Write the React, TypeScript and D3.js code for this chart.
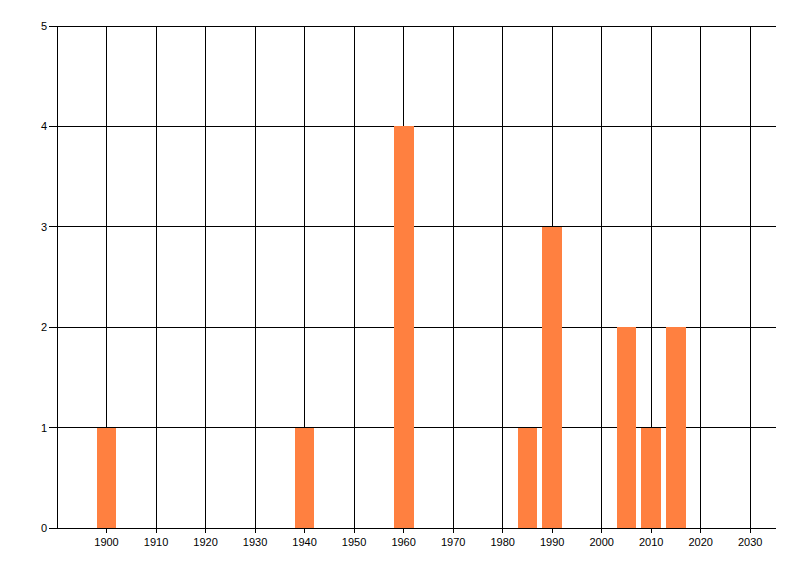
import React from "react";
import * as d3 from "d3";

const years = [1900, 1940, 1960, 1985, 1990, 2005, 2010, 2015];
const counts = [1, 1, 4, 1, 3, 2, 1, 2];
const xTicks = [1900, 1910, 1920, 1930, 1940, 1950, 1960, 1970, 1980, 1990, 2000, 2010, 2020, 2030];
const yTicks = [0, 1, 2, 3, 4, 5];

export default function App() {
  const W = 800, H = 576;
  const left = 57, right = 776, top = 26, bottom = 528;
  const x = d3.scaleLinear().domain([1890, 2035.2]).range([left, right]);
  const y = d3.scaleLinear().domain([0, 5]).range([bottom, top]);
  const barW = x(1904) - x(1900);
  const font = "'Liberation Sans', Arial, sans-serif";
  return (
    <svg width={W} height={H} style={{ position: "absolute", left: 0, top: 0 }}>
      <rect width={W} height={H} fill="#fff" />
      {xTicks.map((t) => (
        <line key={"gx" + t} x1={x(t)} x2={x(t)} y1={top} y2={bottom + 5} stroke="#000" strokeWidth={1} shapeRendering="crispEdges" />
      ))}
      {yTicks.map((t) => (
        <line key={"gy" + t} x1={left - 8} x2={right} y1={y(t)} y2={y(t)} stroke="#000" strokeWidth={1} shapeRendering="crispEdges" />
      ))}
      {years.map((yr, i) => (
        <rect key={"b" + yr} x={x(yr) - barW / 2} y={y(counts[i])} width={barW} height={bottom - y(counts[i])} fill="#FF8040" shapeRendering="crispEdges" />
      ))}
      <line x1={left} x2={left} y1={top} y2={bottom} stroke="#000" shapeRendering="crispEdges" />
      <line x1={left - 8} x2={right} y1={bottom} y2={bottom} stroke="#000" shapeRendering="crispEdges" />
      {xTicks.map((t) => (
        <text key={"tx" + t} x={x(t)} y={546} textAnchor="middle" fontFamily={font} fontSize={11} fill="#000">{t}</text>
      ))}
      {yTicks.map((t) => (
        <text key={"ty" + t} x={47} y={y(t) + 4} textAnchor="end" fontFamily={font} fontSize={11} fill="#000">{t}</text>
      ))}
    </svg>
  );
}
